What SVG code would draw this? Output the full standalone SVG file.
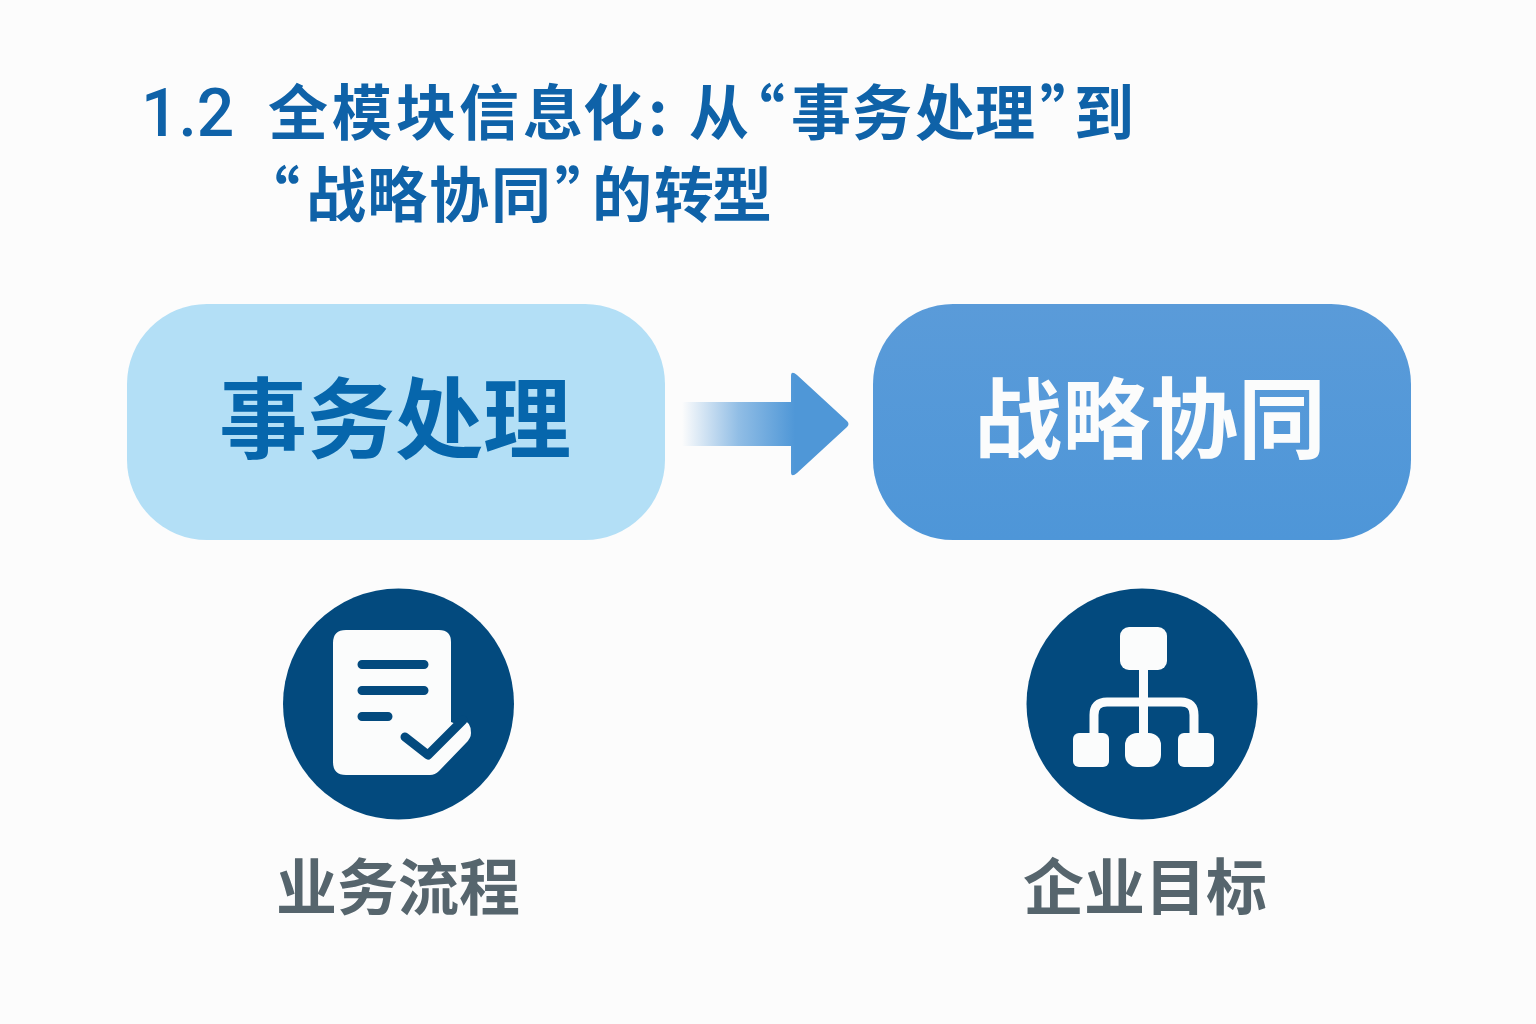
<svg xmlns="http://www.w3.org/2000/svg" width="1536" height="1024" viewBox="0 0 1536 1024">
<style>
text{font-family:"Noto Sans CJK SC","Liberation Sans",sans-serif;font-weight:700}
.t{font-size:60px;fill:#0f62a8}
.num{font-family:Roboto,"Liberation Sans",sans-serif;font-size:66px;font-weight:500;fill:#0f62a8}
.n{font-size:88px}
.c{font-size:61px;fill:#56656d}
.d{fill:#034a7e}
.w{fill:#fbfcfc}
</style>
<defs>
<linearGradient id="ar" gradientUnits="userSpaceOnUse" x1="682" y1="0" x2="795" y2="0"><stop offset="0" stop-color="#4f97d7" stop-opacity="0"/><stop offset="0.5" stop-color="#4f97d7" stop-opacity="0.62"/><stop offset="1" stop-color="#4f97d7"/></linearGradient>
<linearGradient id="rn" x1="0" y1="0" x2="0" y2="1"><stop offset="0" stop-color="#5a9bd9"/><stop offset="1" stop-color="#4e96d8"/></linearGradient>
</defs>
<rect width="1536" height="1024" fill="#fcfcfc"/>
<g id="title">
<text class="num" x="141" y="136">1.2</text>
<text class="t" y="135" x="268 332 396 459 523 583 648 689 725 791 852 915 975 1040 1074">全模块信息化:从“事务处理”到</text>
<text class="t" y="217" x="240 306 367 429 491 555 592 654 712">“战略协同”的转型</text>
</g>
<g id="node-left">
<rect x="127" y="304" width="538" height="236" rx="80" fill="#b3dff6"/>
<text class="n" x="395" y="451" text-anchor="middle" fill="#0666ac">事务处理</text>
</g>
<g id="node-right">
<rect x="873" y="304" width="538" height="236" rx="80" fill="url(#rn)"/>
<text class="n" x="1150" y="451" text-anchor="middle" fill="#fbfcfc">战略协同</text>
</g>
<g id="connectors">
<path d="M682 402H791V376Q791 370 797 375L847 421Q850 424 847 427L797 473Q791 478 791 472V446H682Z" fill="url(#ar)"/>
</g>
<g id="icon-process">
<circle class="d" cx="398.500" cy="704" r="115.500"/>
<path class="w" d="M346 630H439Q451 630 451 642V722L456 724 Q471 716 471 733Q471 738 466 743L439 771Q435 775 430 775H346Q333 775 333 762V643Q333 630 346 630Z"/>
<path d="M362 664.500H424M362 690.500H424M362 716.500H388" stroke="#034a7e" stroke-width="9" stroke-linecap="round" fill="none"/>
<path d="M405 737L428 755L463 720" stroke="#034a7e" stroke-width="9" stroke-linecap="round" stroke-linejoin="round" fill="none"/>
</g>
<g id="icon-org">
<circle class="d" cx="1142" cy="704" r="115.500"/>
<rect class="w" x="1120" y="627" width="47" height="43" rx="9"/>
<path d="M1143.500 668V735M1094 735V715Q1094 702 1107 702H1181Q1194 702 1194 715V735" stroke="#fbfcfc" stroke-width="9" fill="none"/>
<rect class="w" x="1073" y="733" width="36" height="34" rx="6"/>
<rect class="w" x="1125" y="733" width="36" height="34" rx="12"/>
<rect class="w" x="1178" y="733" width="36" height="34" rx="6"/>
</g>
<g id="label-process"><text class="c" x="398" y="910" text-anchor="middle">业务流程</text></g>
<g id="label-org"><text class="c" x="1145" y="910" text-anchor="middle">企业目标</text></g>
</svg>
